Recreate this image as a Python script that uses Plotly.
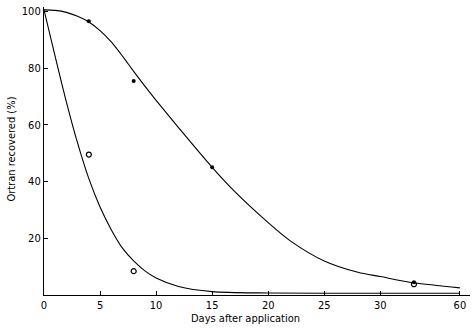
import plotly.graph_objects as go

# Data (days after application, % recovered)
upper_curve_days = [0, 1, 2, 3, 4, 5, 6, 7, 8, 9, 10, 12, 15, 17, 20, 22, 25, 28, 30, 33, 60]
upper_curve_pct = [100.5, 100.3, 99.6, 98.2, 96.2, 93.2, 89.2, 84.2, 78.8, 73.6, 68.6, 59.0, 45.0, 36.5, 25.5, 19.0, 12.0, 8.0, 6.5, 4.3, 2.5]
lower_curve_days = [0, 1, 2, 3, 4, 5, 6, 7, 8, 9, 10, 12, 15, 20, 30, 33, 60]
lower_curve_pct = [100.5, 84, 68, 53.5, 41, 31, 23, 16.5, 12, 8.5, 6, 3, 1.2, 0.7, 0.6, 0.6, 0.6]
filled_days = [4, 8, 15, 33]
filled_pct = [96.5, 75.4, 45.0, 4.5]
open_days = [4, 8, 33]
open_pct = [49.5, 8.4, 3.8]
x_tick_days = [0, 5, 10, 15, 20, 25, 30, 60]
x_tick_labels = ["0", "5", "10", "15", "20", "25", "30", "60"]
y_ticks = [20, 40, 60, 80, 100]

BREAK_START = 33.0
BREAK_POS_60 = 37.1


def axis_pos(d):
    # broken axis: the last tick "60" is compressed next to 30
    if d <= BREAK_START:
        return d
    return BREAK_START + (d - BREAK_START) * (BREAK_POS_60 - BREAK_START) / (60 - BREAK_START)


def mapx(ds):
    return [axis_pos(d) for d in ds]


font_family = "DejaVu Sans Condensed, Liberation Sans Narrow, DejaVu Sans, sans-serif"

fig = go.Figure()
fig.add_trace(go.Scatter(x=mapx(upper_curve_days), y=upper_curve_pct, mode="lines",
                         line=dict(color="black", width=1.1, shape="spline", smoothing=0.8),
                         showlegend=False, hoverinfo="skip"))
fig.add_trace(go.Scatter(x=mapx(lower_curve_days), y=lower_curve_pct, mode="lines",
                         line=dict(color="black", width=1.1, shape="spline", smoothing=0.8),
                         showlegend=False, hoverinfo="skip"))
fig.add_trace(go.Scatter(x=mapx(filled_days), y=filled_pct, mode="markers",
                         marker=dict(symbol="circle", size=4, color="black"),
                         showlegend=False))
fig.add_trace(go.Scatter(x=mapx(open_days), y=open_pct, mode="markers",
                         marker=dict(symbol="circle-open", size=5, color="black",
                                     line=dict(width=1.2)),
                         showlegend=False))

fig.update_layout(
    width=476, height=328,
    margin=dict(l=44, r=6, t=7, b=33),
    paper_bgcolor="white", plot_bgcolor="white",
    font=dict(family=font_family, size=11, color="black"),
    xaxis=dict(range=[0, 38], tickmode="array", tickvals=mapx(x_tick_days), ticktext=x_tick_labels,
               showline=True, linecolor="black", linewidth=1.2, ticks="inside", ticklen=4,
               tickcolor="black", showgrid=False, zeroline=False, automargin=False,
               tickfont=dict(size=11)),
    yaxis=dict(range=[0, 101.5], tickmode="array", tickvals=y_ticks,
               showline=True, linecolor="black", linewidth=1.2, ticks="inside", ticklen=4,
               tickcolor="black", showgrid=False, zeroline=False, automargin=False,
               tickfont=dict(size=11), ticklabeloverflow="allow"),
    annotations=[
        dict(text="Days after application", xref="paper", yref="paper",
             x=0.472, y=-0.083, xanchor="center", yanchor="middle", showarrow=False,
             font=dict(size=11)),
        dict(text="Ortran recovered (%)", xref="paper", yref="paper",
             x=-0.075, y=0.505, xanchor="center", yanchor="middle", textangle=-90,
             showarrow=False, font=dict(size=11)),
    ],
)

# remove the default 8px page margin so the figure fills the window exactly
fig.write_html("out.html", config={"displayModeBar": False},
               post_script="document.body.style.margin='0';")
